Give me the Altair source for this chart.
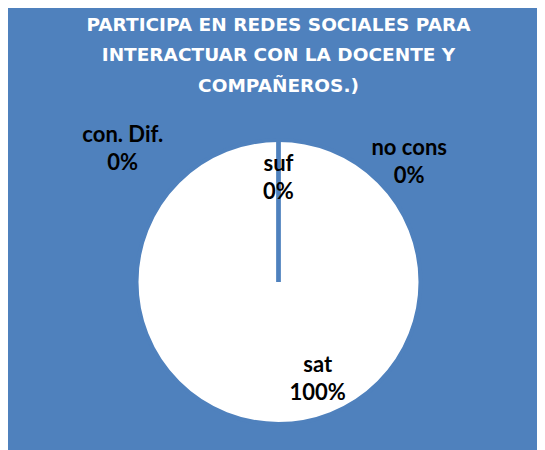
import altair as alt
import pandas as pd

# ---- data ----
categories = ["sat", "suf", "no cons", "con. Dif."]
values = [100, 0, 0, 0]
percent_labels = ["100%", "0%", "0%", "0%"]
title_lines = ["PARTICIPA EN REDES SOCIALES PARA",
               "INTERACTUAR CON LA DOCENTE Y",
               "COMPAÑEROS.)"]

# ---- label placement (polar, relative to pie centre) ----
label_angle = [2.702, 0.0, 0.774, 5.468]   # radians, clockwise from 12 o'clock
label_dist = [92, 118, 187, 214]           # px from centre

df = pd.DataFrame({
    "cat": categories,
    "value": values,
    "pct": percent_labels,
    "order": list(range(len(categories))),
})
df["label"] = df["cat"] + "\n" + df["pct"]
df["angle"] = label_angle
df["dist"] = label_dist

BLUE = "#4F81BD"
base = alt.Chart(df)

pie = base.mark_arc(radius=142, fill="white", stroke=BLUE, strokeWidth=4).encode(
    theta=alt.Theta("value:Q", stack=True),
    order=alt.Order("order:Q"),
)

labels = base.mark_text(
    font="Lato", fontWeight="bold", fontSize=22, lineBreak="\n",
    lineHeight=28, color="black", align="center", baseline="middle",
).encode(
    theta=alt.Theta("angle:Q", scale=None, stack=None),
    radius=alt.Radius("dist:Q", scale=None),
    text="label:N",
)

chart = alt.layer(pie, labels).resolve_scale(
    theta="independent", radius="independent"
).properties(
    width=517,
    height=336,
    title=alt.TitleParams(
        text=title_lines, color="white", font="DejaVu Sans", fontWeight="bold",
        fontSize=18.5, lineHeight=30.5, anchor="middle", offset=19,
    ),
    background=BLUE,
    padding={"left": 12, "top": 106, "right": 0, "bottom": 0},
    autosize=alt.AutoSizeParams(type="none"),
).configure_view(stroke=None)

chart.save("out.html", embed_options={"renderer": "svg", "actions": False})
